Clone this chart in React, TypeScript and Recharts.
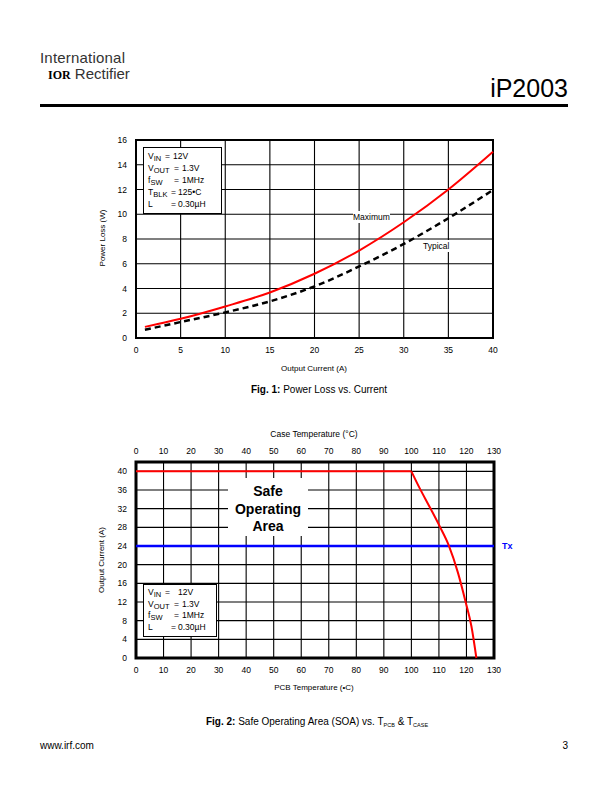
import React from 'react';
import { LineChart, Line, XAxis, YAxis, CartesianGrid, ReferenceArea, ReferenceLine } from 'recharts';

const FONT = "Arial, 'Liberation Sans', Helvetica, sans-serif";

// Fig. 1 data
const currentTicks = [0, 5, 10, 15, 20, 25, 30, 35, 40];
const lossTicks = [0, 2, 4, 6, 8, 10, 12, 14, 16];
const outputCurrent = [1, 5, 10, 15, 20, 25, 30, 35, 40];
const maxLoss = [0.9, 1.55, 2.55, 3.68, 5.19, 7.07, 9.35, 12.0, 15.05];
const typLoss = [0.67, 1.29, 2.07, 2.96, 4.17, 5.78, 7.6, 9.68, 11.96];

// Fig. 2 data
const tempTicks = [0, 10, 20, 30, 40, 50, 60, 70, 80, 90, 100, 110, 120, 130];
const soaTicks = [0, 4, 8, 12, 16, 20, 24, 28, 32, 36, 40];
const flatTemp = [0, 100];
const flatCurrent = [40, 40];
const curveTemp = [100, 103, 106.7, 110.3, 113.6, 116.9, 119.7, 121.8, 123.6];
const curveCurrent = [40, 36.4, 32.3, 28.2, 24.1, 18.3, 12.0, 6.8, 0];
const txCurrent = 24;

const lossData = outputCurrent.map((c, i) => ({ current: c, max: maxLoss[i], typ: typLoss[i] }));
const soaData = [
  { temp: flatTemp[0], flat: flatCurrent[0] },
  ...curveTemp.map((t, i) => ({ temp: t, curve: curveCurrent[i], flat: t === flatTemp[1] ? flatCurrent[1] : undefined })),
];

const tickStyle = { fontSize: 8.5, fill: '#000', fontFamily: FONT };

const abs = (left: number, top: number, extra: React.CSSProperties = {}): React.CSSProperties => ({
  position: 'absolute', left, top, fontFamily: FONT, color: '#000', whiteSpace: 'pre', ...extra,
});

type Row = [string, string, number, number, string];

const box1Rows: Row[] = [
  ['V', 'IN', 17, 25, '12V'],
  ['V', 'OUT', 26, 34, '1.3V'],
  ['f', 'SW', 26, 34, '1MHz'],
  ['T', 'BLK', 23, 30, '125\u2022C'],
  ['L', '', 23, 30, '0.30\u00b5H'],
];

const box2Rows: Row[] = [
  ['V', 'IN', 17, 30, '12V'],
  ['V', 'OUT', 26, 34, '1.3V'],
  ['f', 'SW', 26, 34, '1MHz'],
  ['L', '', 23, 30, '0.30\u00b5H'],
];

function CondBox({ rows, left, top, width, height, lineH }: { rows: Row[]; left: number; top: number; width: number; height: number; lineH: number }) {
  return (
    <div style={abs(left, top, { width, height, boxSizing: 'border-box', border: '1px solid #000', background: '#fff', paddingTop: 2 })}>
      {rows.map((r, i) => (
        <div key={i} style={{ position: 'relative', height: lineH, fontSize: 8.5, lineHeight: `${lineH}px` }}>
          <span style={{ position: 'absolute', left: 4 }}>
            {r[0]}
            <span style={{ fontSize: 7.5, position: 'relative', top: 2 }}>{r[1]}</span>
          </span>
          <span style={{ position: 'absolute', left: 4 + r[2] }}>=</span>
          <span style={{ position: 'absolute', left: 4 + r[3] }}>{r[4]}</span>
        </div>
      ))}
    </div>
  );
}

function PowerLossChart() {
  return (
    <div style={{ position: 'absolute', left: 0, top: 130 }}>
      <LineChart width={612} height={240} data={lossData} margin={{ top: 10, right: 119, bottom: 0, left: 96 }}>
        <CartesianGrid stroke="#000" strokeWidth={1.1} />
        <XAxis dataKey="current" type="number" domain={[0, 40]} ticks={currentTicks} interval={0}
          tickSize={0} tickMargin={9} axisLine={false} height={32} tick={tickStyle} />
        <YAxis type="number" domain={[0, 16]} ticks={lossTicks} interval={0}
          tickSize={0} tickMargin={9} axisLine={false} width={40} tick={tickStyle} />
        <ReferenceArea x1={0} x2={40} y1={0} y2={16} fill="none" stroke="#000" strokeWidth={2} />
        <Line dataKey="typ" type="monotone" stroke="#000" strokeWidth={2.5} strokeDasharray="6 4" dot={false} isAnimationActive={false} />
        <Line dataKey="max" type="monotone" stroke="#ff0000" strokeWidth={2} dot={false} isAnimationActive={false} />
      </LineChart>
    </div>
  );
}

function SoaChart() {
  return (
    <div style={{ position: 'absolute', left: 0, top: 420 }}>
      <LineChart width={612} height={278} data={soaData} margin={{ top: 0, right: 118, bottom: 0, left: 96 }}>
        <CartesianGrid stroke="#000" strokeWidth={1.1} />
        <XAxis dataKey="temp" type="number" domain={[0, 130]} ticks={tempTicks} interval={0}
          tickSize={0} tickMargin={9} axisLine={false} height={40} tick={tickStyle} />
        <XAxis xAxisId="top" orientation="top" dataKey="temp" type="number" domain={[0, 130]} ticks={tempTicks} interval={0}
          tickSize={0} tickMargin={8} axisLine={false} height={42} tick={tickStyle} />
        <YAxis type="number" domain={[0, 42]} ticks={soaTicks} interval={0}
          tickSize={0} tickMargin={9} axisLine={false} width={40} tick={tickStyle} />
        <ReferenceArea x1={0} x2={130} y1={0} y2={42} fill="none" stroke="#000" strokeWidth={3} />
        <ReferenceLine y={txCurrent} stroke="#0000ff" strokeWidth={2.5}
          label={{ value: 'Tx', position: 'right', offset: 8, fill: '#0000ff', fontSize: 9, fontWeight: 'bold', fontFamily: FONT }} />
        <Line dataKey="flat" type="linear" stroke="#ff0000" strokeWidth={2} dot={false} isAnimationActive={false} />
        <Line dataKey="curve" type="monotone" stroke="#ff0000" strokeWidth={2} dot={false} isAnimationActive={false} />
      </LineChart>
    </div>
  );
}

export default function App() {
  return (
    <div style={{ position: 'absolute', left: 0, top: 0, width: 612, height: 792, background: '#fff', overflow: 'hidden' }}>
      {/* header */}
      <div style={abs(40, 50, { fontSize: 15, lineHeight: '15px', color: '#333', letterSpacing: 0.2 })}>International</div>
      <div style={abs(48, 66, { fontSize: 15, lineHeight: '15px', color: '#333' })}>
        <span style={{ fontFamily: "'Liberation Serif', serif", fontWeight: 'bold', fontSize: 12, color: '#000' }}>IOR</span> Rectifier
      </div>
      <div style={abs(430, 74, { width: 138, textAlign: 'right', fontSize: 25 })}>iP2003</div>
      <div style={{ position: 'absolute', left: 40, top: 104, width: 528, height: 3, background: '#000' }} />

      <PowerLossChart />
      <CondBox rows={box1Rows} left={143} top={147} width={79} height={67} lineH={12} />
      <div style={abs(353, 211, { fontSize: 8.5, background: '#fff', lineHeight: '12px' })}>Maximum</div>
      <div style={abs(423, 240, { fontSize: 8.5, background: '#fff', lineHeight: '12px' })}>Typical</div>
      <div style={abs(102, 238, { fontSize: 8, transform: 'translate(-50%, -50%) rotate(-90deg)' })}>Power Loss (W)</div>
      <div style={abs(314, 368, { fontSize: 8, transform: 'translate(-50%, -50%)' })}>Output Current (A)</div>
      <div style={abs(319, 389, { fontSize: 10, transform: 'translate(-50%, -50%)' })}>
        <b>Fig. 1:</b> Power Loss vs. Current
      </div>

      <SoaChart />
      <div style={abs(228, 478, { width: 80, height: 58, background: '#fff', textAlign: 'center', fontSize: 14, fontWeight: 'bold', lineHeight: '17.5px', paddingTop: 5, boxSizing: 'border-box' })}>
        {'Safe\nOperating\nArea'}
      </div>
      <CondBox rows={box2Rows} left={143} top={584} width={74} height={53} lineH={11.7} />
      <div style={abs(314, 434, { fontSize: 8.5, transform: 'translate(-50%, -50%)' })}>Case Temperature (°C)</div>
      <div style={abs(314, 687, { fontSize: 8, transform: 'translate(-50%, -50%)' })}>PCB Temperature (•C)</div>
      <div style={abs(101, 560, { fontSize: 8, transform: 'translate(-50%, -50%) rotate(-90deg)' })}>Output Current (A)</div>
      <div style={abs(317, 721, { fontSize: 10, transform: 'translate(-50%, -50%)' })}>
        <b>Fig. 2:</b> Safe Operating Area (SOA) vs. T<span style={{ fontSize: 5.5, position: 'relative', top: 2 }}>PCB</span> &amp; T<span style={{ fontSize: 5.5, position: 'relative', top: 2 }}>CASE</span>
      </div>

      {/* footer */}
      <div style={abs(40, 740, { fontSize: 10 })}>www.irf.com</div>
      <div style={abs(500, 740, { width: 68, textAlign: 'right', fontSize: 10 })}>3</div>
    </div>
  );
}
